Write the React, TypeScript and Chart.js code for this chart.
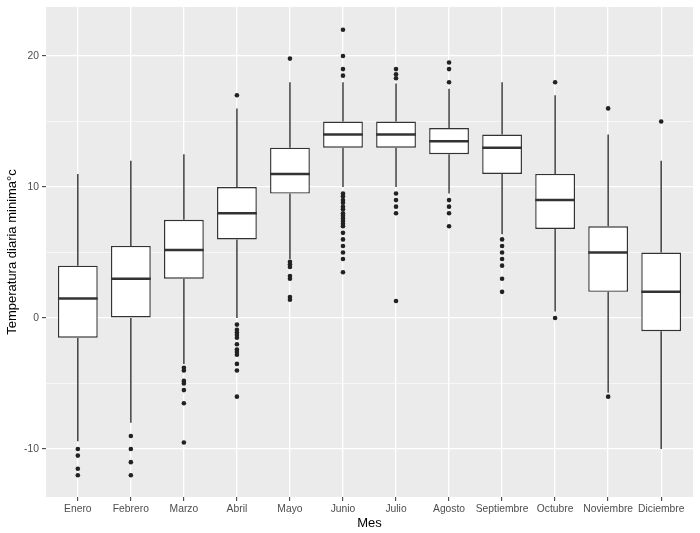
import React, { useEffect, useRef } from 'react';
import { Chart, registerables } from 'chart.js';

Chart.register(...registerables);

const months = ['Enero', 'Febrero', 'Marzo', 'Abril', 'Mayo', 'Junio', 'Julio', 'Agosto', 'Septiembre', 'Octubre', 'Noviembre', 'Diciembre'];
const lowerWhisker = [-9.4, -8, -3.5, 0, 4.5, 10, 10, 9.5, 6.4, 0.5, -5.7, -10];
const q1 = [-1.5, 0, 3, 6, 9.5, 13, 13, 12.5, 11, 6.8, 2, -1];
const medians = [1.5, 3, 5.2, 8, 11, 14, 14, 13.5, 13, 9, 5, 2];
const q3 = [4, 5.5, 7.5, 10, 13, 15, 15, 14.5, 14, 11, 7, 5];
const upperWhisker = [11, 12, 12.5, 16, 18, 18, 17.9, 17.5, 18, 17, 14, 12];
const outliers = [
  [-10, -10.5, -11.5, -12],
  [-9, -10, -11, -12],
  [-3.8, -4, -4.8, -5, -5.5, -6.5, -9.5],
  [17, -0.5, -0.9, -1.1, -1.3, -1.5, -2, -2.4, -2.6, -2.8, -3.5, -4, -6],
  [19.8, 4.3, 4.1, 3.9, 3.2, 3, 1.6, 1.4],
  [22, 20, 19, 18.5, 9.5, 9.3, 9.0, 8.8, 8.5, 8.3, 8.0, 7.8, 7.6, 7.4, 7.2, 7.0, 6.5, 6.0, 5.5, 5.0, 4.5, 3.5],
  [19, 18.6, 18.3, 9.5, 9, 8.5, 8, 1.3],
  [19.5, 19, 18, 9, 8.5, 8, 7],
  [6, 5.5, 5, 4.5, 4, 3, 2],
  [18, 0],
  [16, -6],
  [15],
];
const yTicks = [-10, -5, 0, 5, 10, 15, 20];
const yMin = -13.66;
const yMax = 23.74;

const FONT = '"Liberation Sans", Arial, sans-serif';

export default function App() {
  const ref = useRef<HTMLCanvasElement | null>(null);

  useEffect(() => {
    const canvas = ref.current;
    if (!canvas) return;
    const positions = months.map((_, i) => i + 1);

    const panelPlugin = {
      id: 'panel',
      beforeDraw(chart: any) {
        const { ctx, chartArea } = chart;
        ctx.save();
        ctx.fillStyle = '#ffffff';
        ctx.fillRect(0, 0, chart.width, chart.height);
        ctx.fillStyle = '#EBEBEB';
        ctx.fillRect(chartArea.left, chartArea.top, chartArea.right - chartArea.left, chartArea.bottom - chartArea.top);
        ctx.restore();
      },
    };

    const boxPlugin = {
      id: 'boxparts',
      beforeDatasetsDraw(chart: any) {
        const { ctx } = chart;
        const xs = chart.scales.x;
        const ys = chart.scales.y;
        ctx.save();
        ctx.strokeStyle = '#333333';
        ctx.lineWidth = 1.4;
        positions.forEach((p, i) => {
          const x = xs.getPixelForValue(p);
          ctx.beginPath();
          ctx.moveTo(x, ys.getPixelForValue(lowerWhisker[i]));
          ctx.lineTo(x, ys.getPixelForValue(q1[i]));
          ctx.moveTo(x, ys.getPixelForValue(q3[i]));
          ctx.lineTo(x, ys.getPixelForValue(upperWhisker[i]));
          ctx.stroke();
        });
        ctx.restore();
      },
      afterDatasetsDraw(chart: any) {
        const { ctx } = chart;
        const meta = chart.getDatasetMeta(0);
        const ys = chart.scales.y;
        ctx.save();
        ctx.strokeStyle = '#333333';
        ctx.lineWidth = 2.5;
        meta.data.forEach((bar: any, i: number) => {
          const { x, width } = bar.getProps(['x', 'width'], true);
          const y = ys.getPixelForValue(medians[i]);
          ctx.beginPath();
          ctx.moveTo(x - width / 2, y);
          ctx.lineTo(x + width / 2, y);
          ctx.stroke();
        });
        ctx.restore();
      },
    };

    const chart = new Chart(canvas, {
      type: 'bar',
      data: {
        datasets: [
          {
            type: 'bar',
            data: positions.map((p, i) => ({ x: p, y: [q1[i], q3[i]] })) as any,
            backgroundColor: '#ffffff',
            borderColor: '#333333',
            borderWidth: 1.4,
            borderSkipped: false,
            categoryPercentage: 1,
            barPercentage: 0.75,
            order: 2,
          } as any,
          {
            type: 'scatter',
            data: positions.flatMap((p, i) => outliers[i].map((v) => ({ x: p, y: v }))) as any,
            backgroundColor: '#222222',
            borderWidth: 0,
            pointRadius: 2.3,
            order: 1,
          } as any,
        ],
      },
      options: {
        animation: false,
        responsive: false,
        layout: { padding: { top: 7, right: 7, left: 0, bottom: 0 } },
        plugins: { legend: { display: false }, tooltip: { enabled: false } },
        scales: {
          x: {
            type: 'linear',
            min: 0.4,
            max: 12.6,
            offset: false,
            afterBuildTicks(scale: any) {
              scale.ticks = positions.map((v) => ({ value: v }));
            },
            afterFit(scale: any) {
              scale.height = 36;
              scale.paddingLeft = 0;
              scale.paddingRight = 0;
            },
            ticks: {
              autoSkip: false,
              maxRotation: 0,
              padding: 2,
              color: '#4D4D4D',
              font: { family: FONT, size: 10.3 },
              callback: (v: any) => months[Math.round(Number(v)) - 1] ?? '',
            },
            grid: {
              color: '#ffffff',
              lineWidth: 1.3,
              offset: false,
              tickLength: 4,
              tickColor: '#333333',
              tickWidth: 1,
            },
            border: { display: false },
            title: {
              display: true,
              text: 'Mes',
              color: '#000000',
              font: { family: FONT, size: 13 },
              padding: { top: 0, bottom: 2 },
            },
          },
          y: {
            type: 'linear',
            min: yMin,
            max: yMax,
            afterBuildTicks(scale: any) {
              scale.ticks = yTicks.map((v) => ({ value: v }));
            },
            afterFit(scale: any) {
              scale.width = 46;
              scale.paddingTop = 0;
              scale.paddingBottom = 0;
            },
            ticks: {
              padding: 3,
              color: '#4D4D4D',
              font: { family: FONT, size: 10.3 },
              callback: (v: any) => (Number(v) % 10 === 0 ? String(v) : ''),
            },
            grid: {
              color: '#ffffff',
              lineWidth: (ctx: any) => (ctx.tick && ctx.tick.value % 10 === 0 ? 1.3 : 0.6),
              tickLength: 4,
              tickColor: (ctx: any) => (ctx.tick && ctx.tick.value % 10 === 0 ? '#333333' : 'rgba(0,0,0,0)'),
              tickWidth: 1,
            },
            border: { display: false },
            title: {
              display: true,
              text: 'Temperatura diaria minima°c',
              color: '#000000',
              font: { family: FONT, size: 13 },
              padding: { top: 5, bottom: 0 },
            },
          },
        },
      },
      plugins: [panelPlugin, boxPlugin],
    });

    return () => {
      chart.destroy();
    };
  }, []);

  return (
    <div style={{ position: 'fixed', left: 0, top: 0, width: 700, height: 533, background: '#fff' }}>
      <canvas ref={ref} width={700} height={533} style={{ display: 'block', width: 700, height: 533 }} />
    </div>
  );
}
